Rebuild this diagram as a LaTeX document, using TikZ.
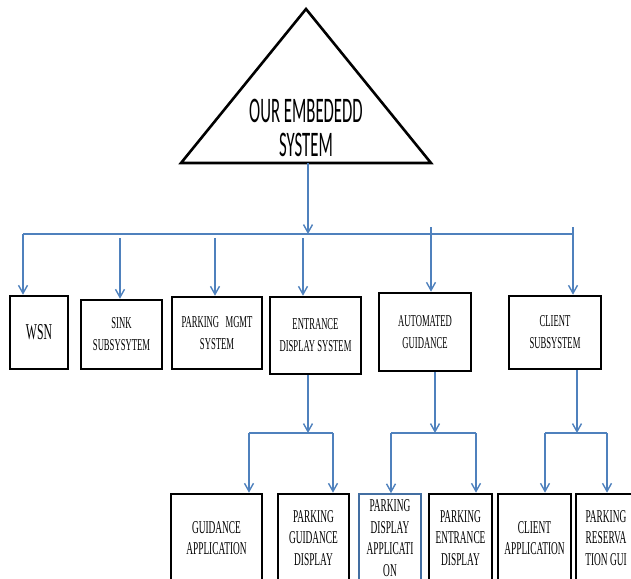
\documentclass[tikz,border=0pt]{standalone}
\usepackage{fontspec}
\setmainfont{Liberation Serif}
\newfontfamily\boxfont[FakeStretch=0.52]{Liberation Serif}
\newfontfamily\trifont[FakeStretch=0.465]{Carlito}
\usetikzlibrary{arrows.meta, positioning}
\definecolor{linkblue}{RGB}{79,129,189}

\begin{document}
\begin{tikzpicture}[
  x=1pt, y=-1pt,
  box/.style={draw, line width=2.6pt, align=center, inner sep=0pt,
              font=\boxfont\fontsize{16.6}{22}\selectfont},
  subbox/.style={box, minimum height=88pt,
                 font=\boxfont\fontsize{18}{21.7}\selectfont},
  link/.style={draw=linkblue, line width=1.4pt},
  arrow/.style={link, -{Straight Barb[length=8pt, width=9pt]}}
]
  \useasboundingbox (0,0) rectangle (631,578);
  \clip (0,0) rectangle (631,578);

  % top of the tree
  \draw[line width=2.6pt] (181,163) -- (306,9) -- (431,163) -- cycle;
  \node[font=\trifont\fontsize{36}{34}\selectfont, align=center, inner sep=0pt]
    (top) at (306,127.5) {OUR EMBEDEDD\\SYSTEM};

  % first level
  \node[box, minimum width=58pt, minimum height=73pt,
        font=\boxfont\fontsize{22.6}{26}\selectfont] (wsn) at (39,332.5) {WSN};
  \node[box, minimum width=81pt, minimum height=69pt] (sink) at (121.5,334.5) {SINK\\SUBSYSYTEM};
  \node[box, minimum width=90pt, minimum height=72pt] (mgmt) at (217,333) {PARKING\ \ \ MGMT\\SYSTEM};
  \node[box, minimum width=91pt, minimum height=77pt] (entr) at (315.5,335.5) {ENTRANCE\\DISPLAY SYSTEM};
  \node[box, minimum width=92pt, minimum height=78pt] (auto) at (425,332) {AUTOMATED\\GUIDANCE};
  \node[box, minimum width=92pt, minimum height=73pt] (client) at (555,332.5) {CLIENT\\SUBSYSTEM};

  % second level
  \node[subbox, minimum width=91pt] (gapp) at (216.5,538) {GUIDANCE\\APPLICATION};
  \node[subbox, minimum width=71pt] (pgd) at (313.5,538) {PARKING\\GUIDANCE\\DISPLAY};
  \node[subbox, minimum width=62pt, draw=linkblue!85!black, line width=1.6pt]
    (pda) at (390,538) {PARKING\\DISPLAY\\APPLICATI\\ON};
  \node[subbox, minimum width=63pt] (ped) at (460.5,538) {PARKING\\ENTRANCE\\DISPLAY};
  \node[subbox, minimum width=73pt] (capp) at (534.5,538) {CLIENT\\APPLICATION};
  \node[subbox, minimum width=60pt] (prg) at (606,538) {PARKING\\RESERVA\\TION GUI};

  % bus under the triangle
  \coordinate (base) at (308,163);
  \coordinate (hub)  at (308,234);
  \coordinate (busL) at (23,234);
  \coordinate (busR) at (573,234);
  \draw[arrow] (base) -- (hub);
  \draw[link] (busL) -- (busR);

  \coordinate (t2) at (120,238);
  \coordinate (t3) at (215,238);
  \coordinate (t4) at (303,238);
  \coordinate (t5) at (431,227);
  \coordinate (t6) at (573,227);
  \draw[arrow] (busL) -- (busL |- wsn.north);
  \draw[arrow] (t2) -- (t2 |- sink.north);
  \draw[arrow] (t3) -- (t3 |- mgmt.north);
  \draw[arrow] (t4) -- (t4 |- entr.north);
  \draw[arrow] (t5) -- (t5 |- auto.north);
  \draw[arrow] (t6) -- (t6 |- client.north);

  % forks to the second level
  \coordinate (f1)  at (308,433);
  \coordinate (f1l) at (249,433);
  \coordinate (f1r) at (333,433);
  \draw[arrow] (entr.south -| f1) -- (f1);
  \draw[link] (f1l) -- (f1r);
  \draw[arrow] (f1l) -- (f1l |- gapp.north);
  \draw[arrow] (f1r) -- (f1r |- pgd.north);

  \coordinate (f2)  at (435,433);
  \coordinate (f2l) at (391,433);
  \coordinate (f2r) at (476,433);
  \draw[arrow] (auto.south -| f2) -- (f2);
  \draw[link] (f2l) -- (f2r);
  \draw[arrow] (f2l) -- (f2l |- pda.north);
  \draw[arrow] (f2r) -- (f2r |- ped.north);

  \coordinate (f3)  at (577,433);
  \coordinate (f3l) at (545,433);
  \coordinate (f3r) at (607,433);
  \draw[arrow] (client.south -| f3) -- (f3);
  \draw[link] (f3l) -- (f3r);
  \draw[arrow] (f3l) -- (f3l |- capp.north);
  \draw[arrow] (f3r) -- (f3r |- prg.north);
\end{tikzpicture}
\end{document}
